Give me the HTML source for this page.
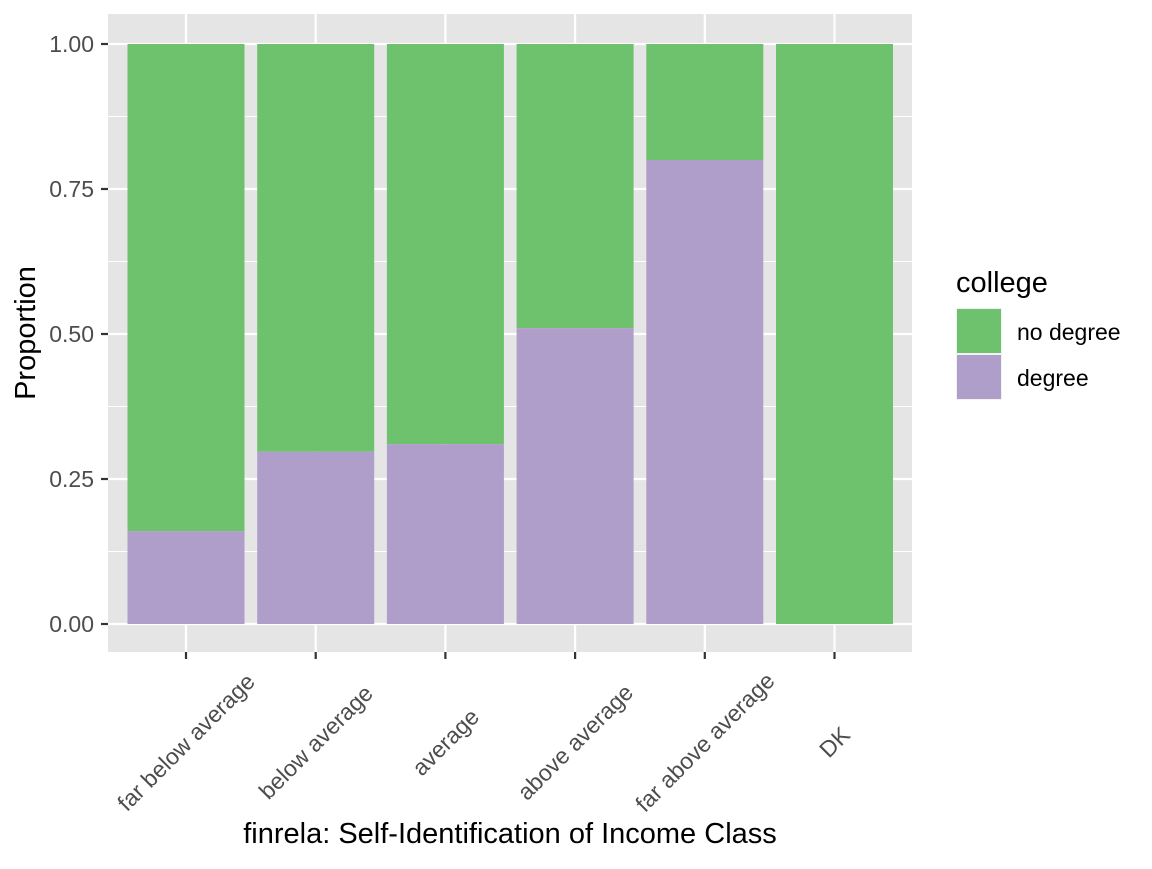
<!DOCTYPE html>
<html><head><meta charset="utf-8"><style>
body{margin:0;background:#fff;}
svg text{font-family:"Liberation Sans",Arial,sans-serif;}
</style></head><body>
<svg id="chart" width="1152" height="864" xmlns="http://www.w3.org/2000/svg">
<rect x="108" y="14" width="804" height="638" fill="#e5e5e5"/>
<g id="grid"></g><g id="bars"></g><g id="axes"></g>
<text transform="translate(35,333) rotate(-90)" text-anchor="middle" font-size="29" fill="#000">Proportion</text>
<text x="510" y="843" text-anchor="middle" font-size="29" fill="#000">finrela: Self-Identification of Income Class</text>
<g>
<text x="956" y="292" font-size="29" fill="#000">college</text>
<rect x="956" y="308" width="46" height="46" fill="#f2f2f2"/>
<rect x="957" y="309" width="44" height="44" fill="#6ec16d"/>
<text x="1017" y="340" font-size="23" fill="#000">no degree</text>
<rect x="956" y="354" width="46" height="46" fill="#f2f2f2"/>
<rect x="957" y="355" width="44" height="44" fill="#af9dca"/>
<text x="1017" y="386" font-size="23" fill="#000">degree</text>
</g>
</svg>
<script>
const categories=["far below average","below average","average","above average","far above average","DK"];
const degree=[0.16,0.297,0.31,0.51,0.80,0];
const noDegree=[0.84,0.703,0.69,0.49,0.20,1];
const yTicks=[0,0.25,0.5,0.75,1];
const yTickLabels=["0.00","0.25","0.50","0.75","1.00"];
const NS="http://www.w3.org/2000/svg";
const y=v=>624-v*580;
const step=129.7, x=i=>186+i*step, bw=117;
function el(t,a,p){const e=document.createElementNS(NS,t);for(const k in a)e.setAttribute(k,a[k]);p.appendChild(e);return e;}
const grid=document.getElementById('grid'),bars=document.getElementById('bars'),axes=document.getElementById('axes');
for(let i=0;i<yTicks.length-1;i++){const m=el('line',{x1:108,x2:912,y1:y((yTicks[i]+yTicks[i+1])/2),y2:y((yTicks[i]+yTicks[i+1])/2),stroke:'#fff','stroke-width':1.1},grid);

}
yTicks.forEach((t,i)=>{const g=el('line',{x1:108,x2:912,y1:y(t),y2:y(t),stroke:'#fff','stroke-width':2.2},grid);


const tk=el('line',{x1:101,x2:108,y1:y(t),y2:y(t),stroke:'#333','stroke-width':2.2},axes);


const tx=el('text',{x:94,y:y(t)+8,'text-anchor':'end','font-size':23,fill:'#4d4d4d'},axes);tx.textContent=yTickLabels[i];

});
categories.forEach((c,i)=>{const v=el('line',{x1:x(i),x2:x(i),y1:14,y2:652,stroke:'#fff','stroke-width':2.2},grid);


const b1=el('rect',{x:x(i)-bw/2,y:y(1),width:bw,height:y(degree[i])-y(1),fill:'#6ec16d'},bars);


const b2=el('rect',{x:x(i)-bw/2,y:y(degree[i]),width:bw,height:y(0)-y(degree[i]),fill:'#af9dca'},bars);


const tk=el('line',{x1:x(i),x2:x(i),y1:652,y2:659,stroke:'#333','stroke-width':2.2},axes);


const tx=el('text',{transform:`translate(${x(i)},742) rotate(-45)`,'text-anchor':'middle',dy:'0.35em','font-size':23,fill:'#4d4d4d'},axes);tx.textContent=c;

});
</script>
</body></html>
